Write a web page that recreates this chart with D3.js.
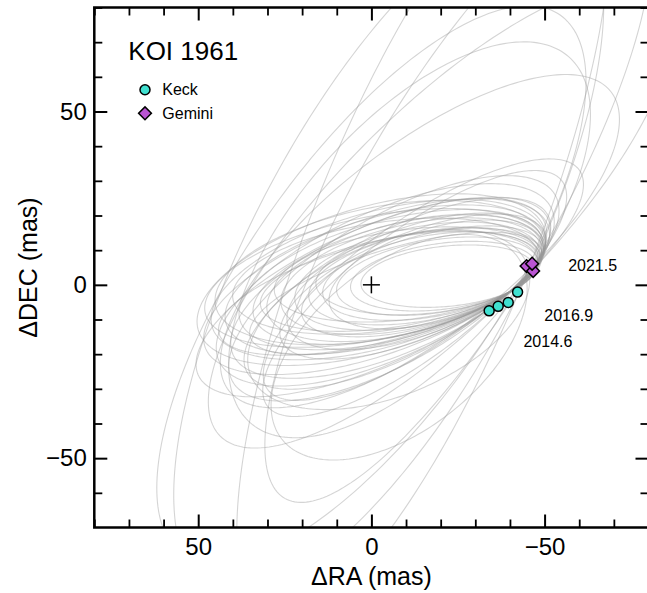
<!DOCTYPE html>
<html lang="en">
<head>
<meta charset="UTF-8">
<title>KOI 1961 orbit fits</title>
<script src="https://d3js.org/d3.v7.min.js"></script>
<style>
  body { margin: 0; background: #fff; }
  svg { display: block; font-family: 'Liberation Sans', Arial, Helvetica, sans-serif; }
</style>
</head>
<body>
<svg id="chart" width="647" height="593"></svg>
<script>
// measured relative astrometry (mas)
const keckRA = [-34.0, -36.6, -39.5, -42.2];
const keckDEC = [-7.5, -6.2, -5.1, -2.1];
const geminiRA = [-44.8, -46.7, -46.4];
const geminiDEC = [5.4, 4.0, 6.1];

// epoch annotations: text, RA, DEC of the text start
const epochText = ['2021.5', '2016.9', '2014.6'];
const epochRA = [-56.8, -49.9, -43.9];
const epochDEC = [3.9, -10.4, -17.9];

// orbit draws, main family: ends of the long axis + half width (mas)
const mainLeftRA   = [3, 6, 10, 14, 18, 22, 26, 30, 34, 38, 42, 46, 50, 40, 35, 45, 48, 28, 40, 36, 20, 44, 48, 24, 40, 30, 32, 44, 26, 16, 50, 12];
const mainLeftDEC  = [0, -1, -2, -3, -4, -5, -6, -8, -9, -10, -11, -12, -13, -4, -15, -6, -18, -2, -20, -25, -9, -22, -8, -12, -28, -35, -6, -14, -16, 0, -26, -6];
const mainRightRA  = [-47, -47.5, -48, -48, -48.5, -48.5, -49, -49, -49.5, -49.5, -50, -50, -50, -48, -49, -50, -51, -49, -50, -51, -49.5, -52, -50, -49, -53, -55, -48.5, -49, -50, -48, -51, -49.5];
const mainRightDEC = [5, 6, 7, 8, 9, 10, 11, 12, 12, 13, 14, 15, 16, 9, 10, 13, 17, 8, 18, 20, 11, 22, 12, 14, 26, 30, 8, 10, 15, 7, 19, 12];
const mainHalfWidth = [8.7, 9.5, 10.5, 11.7, 12.7, 14.0, 14.9, 15.9, 15.9, 17.2, 18.2, 19.5, 20.9, 15.6, 13.0, 18.9, 19.5, 12.9, 19.2, 18.0, 13.0, 21.1, 17.7, 15.7, 20.9, 17.9, 12.8, 14.3, 15.2, 11.7, 19.7, 13.4];

// orbit draws, wide family: centre, semi axes, tilt of long axis (deg)
const wideCenterRA  = [-14, -11, -15, 0, -5, -15, -20, -25, -8, -5];
const wideCenterDEC = [12.6, 13, 1.5, 0, 10, 15, 20, 25, -18, -10];
const wideSemiMajor = [70, 70, 55, 95, 110, 120, 90, 100, 43, 43];
const wideSemiMinor = [27, 33, 18, 36, 39, 32, 30, 28.5, 24, 22];
const wideTilt      = [38, 49, 35, 55, 62, 68, 45, 60, 38, 22];

const majorTicks = [-50, 0, 50];
const minorTicks = [-80, -70, -60, -40, -30, -20, -10, 10, 20, 30, 40, 60, 70, 80];

const svg = d3.select('#chart');
const plot = {left: 94.3, right: 648.5, top: 7.5, bottom: 527.5};

const x = d3.scaleLinear().domain([80, -80]).range([plot.left, plot.right]);
const y = d3.scaleLinear().domain([-70, 80]).range([plot.bottom, plot.top]);

// build orbit list in one shape
const orbits = [];
mainLeftRA.forEach((lr, i) => {
    const ld = mainLeftDEC[i], rr = mainRightRA[i], rd = mainRightDEC[i];
    orbits.push({
        cx: (lr + rr) / 2,
        cy: (ld + rd) / 2,
        a: Math.hypot(lr - rr, rd - ld) / 2,
        b: mainHalfWidth[i],
        tilt: Math.atan2(rd - ld, lr - rr)
    });
});
wideCenterRA.forEach((c, i) => {
    orbits.push({
        cx: c,
        cy: wideCenterDEC[i],
        a: wideSemiMajor[i],
        b: wideSemiMinor[i],
        tilt: wideTilt[i] * Math.PI / 180
    });
});

function orbitPoints(o) {
    return d3.range(0, 360, 1.5).map(deg => {
        const t = deg * Math.PI / 180;
        const u = o.a * Math.cos(t), v = o.b * Math.sin(t);
        return [
            o.cx - (u * Math.cos(o.tilt) - v * Math.sin(o.tilt)),
            o.cy + (u * Math.sin(o.tilt) + v * Math.cos(o.tilt))
        ];
    });
}

svg.append('defs').append('clipPath').attr('id', 'clip')
    .append('rect')
    .attr('x', plot.left).attr('y', plot.top)
    .attr('width', plot.right - plot.left).attr('height', plot.bottom - plot.top);

const orbitLine = d3.line()
    .x(d => x(d[0]))
    .y(d => y(d[1]))
    .curve(d3.curveLinearClosed);

svg.append('g')
    .attr('clip-path', 'url(#clip)')
    .selectAll('path')
    .data(orbits)
    .join('path')
    .attr('d', d => orbitLine(orbitPoints(d)))
    .attr('fill', 'none')
    .attr('stroke', '#999')
    .attr('stroke-opacity', 0.42)
    .attr('stroke-width', 1.1);

// primary star
const star = svg.append('g').attr('transform', `translate(${x(0)},${y(0)})`)
    .attr('stroke', '#000').attr('stroke-width', 1.5);
star.append('line').attr('x1', -8.5).attr('x2', 8.5).attr('y1', 0).attr('y2', 0);
star.append('line').attr('x1', 0).attr('x2', 0).attr('y1', -8.5).attr('y2', 8.5);

// data points
const diamond = d3.symbol().type(d3.symbolSquare).size(82);

svg.append('g')
    .selectAll('path')
    .data(geminiRA.map((r, i) => [r, geminiDEC[i]]))
    .join('path')
    .attr('d', diamond)
    .attr('transform', d => `translate(${x(d[0])},${y(d[1])}) rotate(45)`)
    .attr('fill', '#BA55D3')
    .attr('stroke', '#000')
    .attr('stroke-width', 1.5);

svg.append('g')
    .selectAll('circle')
    .data(keckRA.map((r, i) => [r, keckDEC[i]]))
    .join('circle')
    .attr('cx', d => x(d[0]))
    .attr('cy', d => y(d[1]))
    .attr('r', 5)
    .attr('fill', '#40E0D0')
    .attr('stroke', '#000')
    .attr('stroke-width', 1.5);

svg.append('g')
    .selectAll('text')
    .data(epochText)
    .join('text')
    .attr('x', (d, i) => x(epochRA[i]))
    .attr('y', (d, i) => y(epochDEC[i]))
    .attr('font-size', 16)
    .attr('fill', '#000')
    .text(d => d);

// axes: major ticks with labels, minor ticks without, all pointing in
const fmt = d3.format('d');

function styleAxis(g) {
    g.select('.domain').remove();
    g.selectAll('.tick line').attr('stroke', '#000');
    g.selectAll('.tick text')
        .attr('font-size', 24)
        .attr('font-family', "'Liberation Sans', Arial, sans-serif")
        .attr('fill', '#000');
}

// bottom
svg.append('g').attr('transform', `translate(0,${plot.bottom})`)
    .call(d3.axisBottom(x).tickValues(majorTicks).tickSizeInner(-13).tickSizeOuter(0).tickPadding(10.5).tickFormat(fmt))
    .call(styleAxis)
    .call(g => g.selectAll('.tick line').attr('stroke-width', 2));
svg.append('g').attr('transform', `translate(0,${plot.bottom})`)
    .call(d3.axisBottom(x).tickValues(minorTicks).tickSizeInner(-8).tickSizeOuter(0).tickFormat(''))
    .call(styleAxis)
    .call(g => g.selectAll('.tick line').attr('stroke-width', 1.8));

// top
svg.append('g').attr('transform', `translate(0,${plot.top})`)
    .call(d3.axisTop(x).tickValues(majorTicks).tickSizeInner(-13).tickSizeOuter(0).tickFormat(''))
    .call(styleAxis)
    .call(g => g.selectAll('.tick line').attr('stroke-width', 2));
svg.append('g').attr('transform', `translate(0,${plot.top})`)
    .call(d3.axisTop(x).tickValues(minorTicks).tickSizeInner(-8).tickSizeOuter(0).tickFormat(''))
    .call(styleAxis)
    .call(g => g.selectAll('.tick line').attr('stroke-width', 1.8));

// left
svg.append('g').attr('transform', `translate(${plot.left},0)`)
    .call(d3.axisLeft(y).tickValues(majorTicks).tickSizeInner(-13).tickSizeOuter(0).tickPadding(7.5).tickFormat(fmt))
    .call(styleAxis)
    .call(g => g.selectAll('.tick line').attr('stroke-width', 2));
svg.append('g').attr('transform', `translate(${plot.left},0)`)
    .call(d3.axisLeft(y).tickValues(minorTicks.filter(v => v > -70)).tickSizeInner(-8).tickSizeOuter(0).tickFormat(''))
    .call(styleAxis)
    .call(g => g.selectAll('.tick line').attr('stroke-width', 1.8));

// right
svg.append('g').attr('transform', `translate(${plot.right},0)`)
    .call(d3.axisRight(y).tickValues(majorTicks).tickSizeInner(-13).tickSizeOuter(0).tickFormat(''))
    .call(styleAxis)
    .call(g => g.selectAll('.tick line').attr('stroke-width', 2));
svg.append('g').attr('transform', `translate(${plot.right},0)`)
    .call(d3.axisRight(y).tickValues(minorTicks.filter(v => v > -70)).tickSizeInner(-8).tickSizeOuter(0).tickFormat(''))
    .call(styleAxis)
    .call(g => g.selectAll('.tick line').attr('stroke-width', 1.8));

// frame
svg.append('rect')
    .attr('x', plot.left).attr('y', plot.top)
    .attr('width', plot.right - plot.left).attr('height', plot.bottom - plot.top)
    .attr('fill', 'none').attr('stroke', '#000').attr('stroke-width', 2.5);

// axis titles
svg.append('text')
    .attr('x', (plot.left + plot.right) / 2).attr('y', 585)
    .attr('text-anchor', 'middle').attr('font-size', 25)
    .text('ΔRA (mas)');

svg.append('text')
    .attr('transform', `translate(37,${(plot.top + plot.bottom) / 2}) rotate(-90)`)
    .attr('text-anchor', 'middle').attr('font-size', 25)
    .text('ΔDEC (mas)');

// title + legend
svg.append('text').attr('x', 128.3).attr('y', 60.3).attr('font-size', 26).text('KOI 1961');

const legend = svg.append('g');
legend.append('circle').attr('cx', 145).attr('cy', 89.7).attr('r', 5)
    .attr('fill', '#40E0D0').attr('stroke', '#000').attr('stroke-width', 1.5);
legend.append('text').attr('x', 162.3).attr('y', 95.3).attr('font-size', 16).text('Keck');
legend.append('path').attr('d', diamond)
    .attr('transform', 'translate(145,113.3) rotate(45)')
    .attr('fill', '#BA55D3').attr('stroke', '#000').attr('stroke-width', 1.5);
legend.append('text').attr('x', 162.3).attr('y', 118.7).attr('font-size', 16).text('Gemini');
</script>
</body>
</html>
